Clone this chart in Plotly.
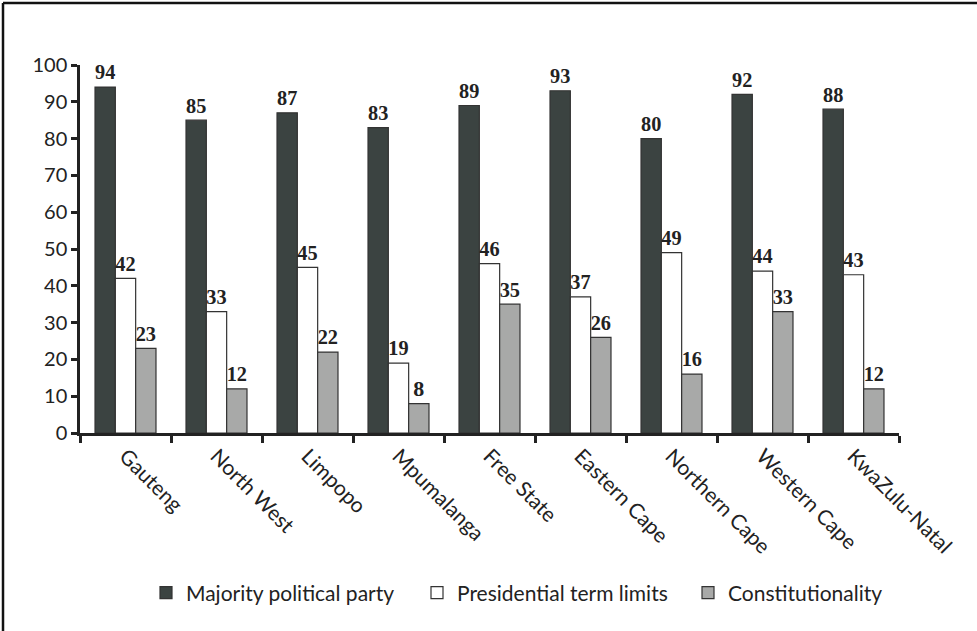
import plotly.graph_objects as go

provinces = ["Gauteng", "North West", "Limpopo", "Mpumalanga", "Free State",
             "Eastern Cape", "Northern Cape", "Western Cape", "KwaZulu-Natal"]
majority_party = [94, 85, 87, 83, 89, 93, 80, 92, 88]
term_limits = [42, 33, 45, 19, 46, 37, 49, 44, 43]
constitutionality = [23, 12, 22, 8, 35, 26, 16, 33, 12]

series = [
    ("Majority political party", majority_party, "#3b4341"),
    ("Presidential term limits", term_limits, "#ffffff"),
    ("Constitutionality", constitutionality, "#a8a9a8"),
]

W, H = 977, 631
ML, MR, MT, MB = 80, 78, 65, 198
PW, PH = W - ML - MR, H - MT - MB

fig = go.Figure()
for name, vals, color in series:
    fig.add_trace(go.Bar(
        x=provinces, y=vals, name=name,
        marker=dict(color=color, line=dict(color="#333333", width=1.2)),
        text=[str(v) for v in vals], textposition="outside",
        textfont=dict(family="Liberation Serif", size=22, color="#222222", weight="bold"),
        cliponaxis=False,
    ))

# frame lines along the top and left edge of the figure
def px_x(p):
    return (p - ML) / PW

def px_y(p):
    return (H - MB - p) / PH

fig.add_shape(type="line", xref="paper", yref="paper",
              x0=px_x(3), x1=px_x(W + 5), y0=px_y(3), y1=px_y(3),
              line=dict(color="#111111", width=2.5))
fig.add_shape(type="line", xref="paper", yref="paper",
              x0=px_x(3), x1=px_x(3), y0=px_y(3), y1=px_y(H + 5),
              line=dict(color="#111111", width=2.5))

fig.update_layout(
    width=W, height=H,
    margin=dict(l=ML, r=MR, t=MT, b=MB, autoexpand=False),
    paper_bgcolor="white", plot_bgcolor="white",
    barmode="group", bargap=0.33, bargroupgap=0,
    font=dict(family="Lato", size=18, color="#222222"),
    showlegend=True,
    legend=dict(orientation="h", x=px_x(146), xanchor="left", y=px_y(593), yanchor="middle",
                font=dict(family="Lato", size=21, color="#222222"),
                itemwidth=30, entrywidth=226, entrywidthmode="pixels",
                traceorder="normal"),
)
fig.update_xaxes(
    type="category", showline=True, linecolor="#222222", linewidth=2.5,
    ticks="outside", tickson="boundaries", ticklen=7, tickwidth=2.5, tickcolor="#222222",
    tickangle=45, tickfont=dict(family="Lato", size=21, color="#222222"),
    showgrid=False,
)
fig.update_yaxes(
    range=[0, 100], dtick=10, showline=True, linecolor="#222222", linewidth=2.5,
    ticks="outside", ticklen=6, tickwidth=2.5, tickcolor="#222222",
    tickfont=dict(family="Lato", size=20, color="#222222"),
    showgrid=False, zeroline=False,
)

fig.write_html("out.html")
